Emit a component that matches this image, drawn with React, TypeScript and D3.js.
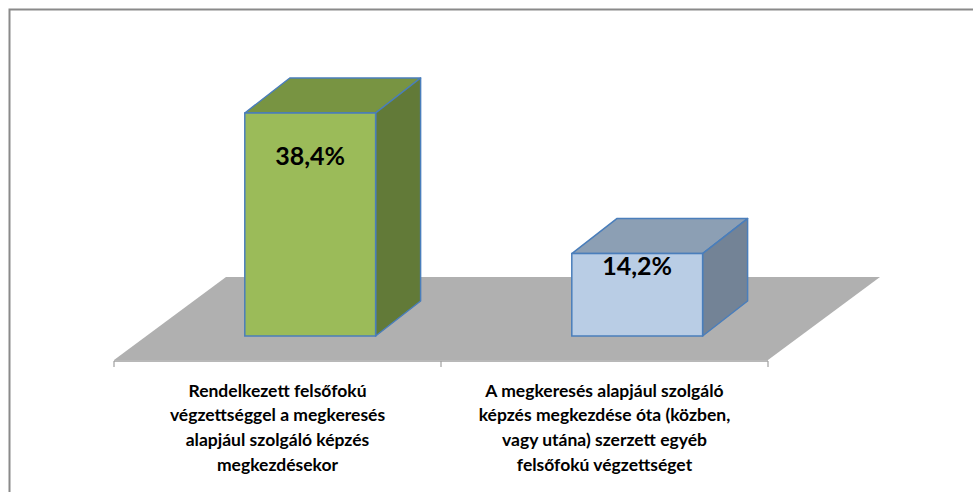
import React from "react";
import * as d3 from "d3";

const categories = [
  "Rendelkezett felsőfokú végzettséggel a megkeresés alapjául szolgáló képzés megkezdésekor",
  "A megkeresés alapjául szolgáló képzés megkezdése óta (közben, vagy utána) szerzett egyéb felsőfokú végzettséget",
];
const categoryLines = [
  ["Rendelkezett felsőfokú", "végzettséggel a megkeresés", "alapjául szolgáló képzés", "megkezdésekor"],
  ["A megkeresés alapjául szolgáló", "képzés megkezdése óta (közben,", "vagy utána) szerzett egyéb", "felsőfokú végzettséget"],
];
const values = [38.4, 14.2];
const valueLabels = ["38,4%", "14,2%"];

const frontColors = ["#9BBB59", "#B9CDE5"];
const topColors = ["#789442", "#8C9FB4"];
const sideColors = ["#627A38", "#738396"];
const outline = "#4A7EBB";

export default function App() {
  const W = 973, H = 492;
  const axisY = 360;
  const baseY = 336;
  const x = d3.scaleBand<string>().domain(categories).range([114, 768]).paddingInner(0).paddingOuter(0);
  const y = d3.scaleLinear().domain([0, 38.4]).range([baseY, 113]);
  const labelY = d3.scaleLinear().domain([0, 38.4]).range([339.5, 165]);
  const bw = x.bandwidth();
  const depth = { dx: 45, dy: -35 };
  const floorDepth = { dx: 112, dy: -83 };

  const floor = [
    [114, axisY],
    [114 + floorDepth.dx, axisY + floorDepth.dy],
    [768 + floorDepth.dx, axisY + floorDepth.dy],
    [768, axisY],
  ];
  const line = d3.line();

  return (
    <svg width={W} height={H} style={{ position: "absolute", left: 0, top: 0, background: "#fff" }}>
      <rect x={9.5} y={9.5} width={1000} height={1000} fill="#fff" stroke="#8A8A8A" strokeWidth={2} />
      <path d={line(floor as [number, number][]) + "Z"} fill="#B0B0B0" />
      <line x1={114} x2={768} y1={axisY + 1} y2={axisY + 1} stroke="#A0A0A0" strokeWidth={1.5} />
      {[...categories.map((c) => x(c) as number), 768].map((t, i) => (
        <line key={i} x1={t} x2={t} y1={axisY + 1} y2={axisY + 7} stroke="#A0A0A0" strokeWidth={1.2} />
      ))}
      {categories.map((c, i) => {
        const x0 = (x(c) as number) + bw * 0.4;
        const x1 = x0 + bw * 0.4;
        const yt = y(values[i]);
        const yb = y(0);
        const { dx, dy } = depth;
        const topPts: [number, number][] = [[x0, yt], [x0 + dx, yt + dy], [x1 + dx, yt + dy], [x1, yt]];
        const sidePts: [number, number][] = [[x1, yt], [x1 + dx, yt + dy], [x1 + dx, yb + dy], [x1, yb]];
        return (
          <g key={c}>
            <path d={line(topPts) + "Z"} fill={topColors[i]} stroke={outline} strokeWidth={1.5} strokeLinejoin="round" />
            <path d={line(sidePts) + "Z"} fill={sideColors[i]} stroke={outline} strokeWidth={1.5} strokeLinejoin="round" />
            <rect x={x0} y={yt} width={x1 - x0} height={yb - yt} fill={frontColors[i]} stroke={outline} strokeWidth={1.5} />
            <text x={(x0 + x1) / 2} y={labelY(values[i])} textAnchor="middle" fontFamily="Lato" fontWeight="bold" fontSize={25} fill="#000">
              {valueLabels[i]}
            </text>
          </g>
        );
      })}
      {categories.map((c, i) => (
        <text key={c} textAnchor="middle" fontFamily="Lato" fontWeight="bold" fontSize={17.5} fill="#000">
          {categoryLines[i].map((l, j) => (
            <tspan key={j} x={(x(c) as number) + bw / 2} y={396.7 + j * 24.6}>{l}</tspan>
          ))}
        </text>
      ))}
    </svg>
  );
}
